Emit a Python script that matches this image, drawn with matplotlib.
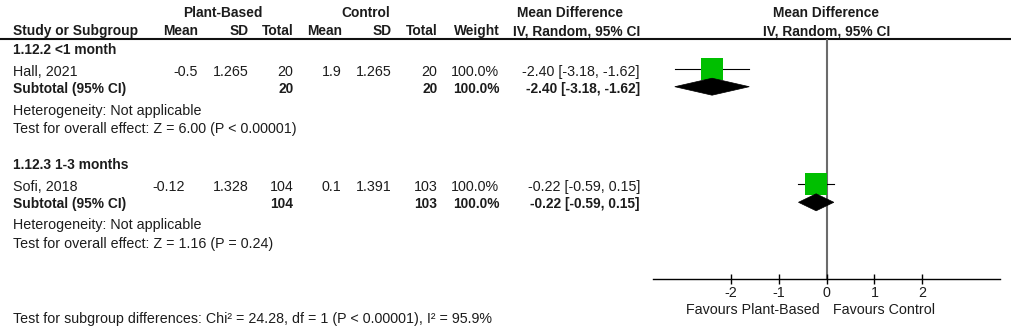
import matplotlib
matplotlib.use('Agg')
import matplotlib.pyplot as plt
from matplotlib.patches import Polygon
import numpy as np

# ---------------- data ----------------
subgroups = ["1.12.2 <1 month", "1.12.3 1-3 months"]
studies = ["Hall, 2021", "Sofi, 2018"]
pb_mean = [-0.5, -0.12]
pb_sd = [1.265, 1.328]
pb_n = [20, 104]
ct_mean = [1.9, 0.1]
ct_sd = [1.265, 1.391]
ct_n = [20, 103]
weights = [100.0, 100.0]
md = [-2.40, -0.22]
ci_lo = [-3.18, -0.59]
ci_hi = [-1.62, 0.15]
sub_md = [-2.40, -0.22]
sub_lo = [-3.18, -0.59]
sub_hi = [-1.62, 0.15]
heterogeneity = ["Heterogeneity: Not applicable", "Heterogeneity: Not applicable"]
overall = ["Test for overall effect: Z = 6.00 (P < 0.00001)",
           "Test for overall effect: Z = 1.16 (P = 0.24)"]
subgroup_test = "Test for subgroup differences: Chi\u00b2 = 24.28, df = 1 (P < 0.00001), I\u00b2 = 95.9%"
xticks = [-2, -1, 0, 1, 2]
favours = ["Favours Plant-Based", "Favours Control"]

# ---------------- layout ----------------
W, H = 1012, 326
FS = 10.3
TXT = '#1c1c1c'
REG = dict(family='Liberation Sans', fontsize=FS, color=TXT)
BLD = dict(family='Liberation Sans', fontsize=9.9, fontweight='bold', color=TXT)

fig = plt.figure(figsize=(W / 100, H / 100), dpi=100)
tab = fig.add_axes([0, 0, 1, 1])
tab.set_xlim(0, W)
tab.set_ylim(H, 0)
tab.axis('off')

XL = 12.7
col_mean_pb = [197.5, 185.0]
X_SD1, X_N1, X_M2, X_SD2, X_N2, X_W, X_CI = 248.3, 293.3, 341.7, 391.7, 437.3, 499.3, 640.0

hb1, hb2 = 16.7, 35.0
tab.text(223, hb1, "Plant-Based", ha='center', va='baseline', **BLD)
tab.text(366, hb1, "Control", ha='center', va='baseline', **BLD)
tab.text(570.5, hb1, "Mean Difference", ha='center', va='baseline', **BLD)
tab.text(826.5, hb1, "Mean Difference", ha='center', va='baseline', **BLD)
tab.text(XL, hb2, "Study or Subgroup", ha='left', va='baseline', **BLD)
for x, s in [(198.3, "Mean"), (X_SD1, "SD"), (X_N1, "Total"), (342.5, "Mean"),
             (X_SD2, "SD"), (X_N2, "Total"), (X_W, "Weight"), (X_CI, "IV, Random, 95% CI")]:
    tab.text(x, hb2, s, ha='right', va='baseline', **BLD)
tab.text(826.5, hb2, "IV, Random, 95% CI", ha='center', va='baseline', **BLD)

tab.plot([0, W], [39.3, 39.3], color='#111111', lw=1.5, solid_capstyle='butt')

b_head = [54.3, 169.3]
b_study = [76.0, 190.7]
b_sub = [92.7, 208.3]
b_het = [115.0, 229.3]
b_test = [133.3, 248.3]

for g in range(len(subgroups)):
    tab.text(XL, b_head[g], subgroups[g], ha='left', va='baseline', **BLD)
    y = b_study[g]
    tab.text(XL, y, studies[g], ha='left', va='baseline', **REG)
    tab.text(col_mean_pb[g], y, f"{pb_mean[g]}", ha='right', va='baseline', **REG)
    tab.text(X_SD1, y, f"{pb_sd[g]}", ha='right', va='baseline', **REG)
    tab.text(X_N1, y, f"{pb_n[g]}", ha='right', va='baseline', **REG)
    tab.text(X_M2, y, f"{ct_mean[g]}", ha='right', va='baseline', **REG)
    tab.text(X_SD2, y, f"{ct_sd[g]}", ha='right', va='baseline', **REG)
    tab.text(X_N2, y, f"{ct_n[g]}", ha='right', va='baseline', **REG)
    tab.text(X_W, y, f"{weights[g]:.1f}%", ha='right', va='baseline', **REG)
    tab.text(X_CI, y, f"{md[g]:.2f} [{ci_lo[g]:.2f}, {ci_hi[g]:.2f}]", ha='right', va='baseline', **REG)
    y = b_sub[g]
    tab.text(XL, y, "Subtotal (95% CI)", ha='left', va='baseline', **BLD)
    tab.text(X_N1, y, f"{pb_n[g]}", ha='right', va='baseline', **BLD)
    tab.text(X_N2, y, f"{ct_n[g]}", ha='right', va='baseline', **BLD)
    tab.text(X_W, y, f"{weights[g]:.1f}%", ha='right', va='baseline', **BLD)
    tab.text(X_CI, y, f"{sub_md[g]:.2f} [{sub_lo[g]:.2f}, {sub_hi[g]:.2f}]", ha='right', va='baseline', **BLD)
    tab.text(XL, b_het[g], heterogeneity[g], ha='left', va='baseline', **REG)
    tab.text(XL, b_test[g], overall[g], ha='left', va='baseline', **REG)

tab.text(XL, 323.3, subgroup_test, ha='left', va='baseline', **REG)

# ---------------- forest panel ----------------
x0, x1 = 653.3, 1000.0
ytop, ybot = 39.3, 279.3
fa = fig.add_axes([x0 / W, (H - ybot) / H, (x1 - x0) / W, (ybot - ytop) / H])
fa.set_xlim(-3.63, 3.63)
fa.set_ylim(ybot, ytop)
fa.patch.set_alpha(0)
for s in ['top', 'left', 'right']:
    fa.spines[s].set_visible(False)
fa.spines['bottom'].set_linewidth(1.0)
fa.spines['bottom'].set_color('black')
fa.set_yticks([])
fa.set_xticks(xticks)
fa.set_xticklabels([str(t) for t in xticks], family='Liberation Sans', fontsize=FS, color=TXT)
fa.tick_params(axis='x', direction='inout', length=6.5, width=1.0, pad=1.5, color='black')

fa.axvline(0, color='#6b6b6b', lw=1.5, zorder=1)

for g in range(len(studies)):
    ys = b_study[g] - 7.0
    fa.plot([ci_lo[g], ci_hi[g]], [ys, ys], color='black', lw=0.8, zorder=2)
    fa.plot([md[g]], [ys], marker='s', ms=15.8 * np.sqrt(weights[g] / 100.0),
            color='#00bf00', mec='#00bf00', mew=0, ls='none', zorder=3)
    yd = b_sub[g] - 6.0
    hh = 8.5
    fa.add_patch(Polygon([[sub_lo[g], yd], [sub_md[g], yd - hh], [sub_hi[g], yd], [sub_md[g], yd + hh]],
                         closed=True, facecolor='black', edgecolor='black', lw=0.5, zorder=4))

tab.text(820, 314, favours[0], ha='right', va='baseline', **REG)
tab.text(833.3, 314, favours[1], ha='left', va='baseline', **REG)

fig.savefig('out.png', dpi=100)
